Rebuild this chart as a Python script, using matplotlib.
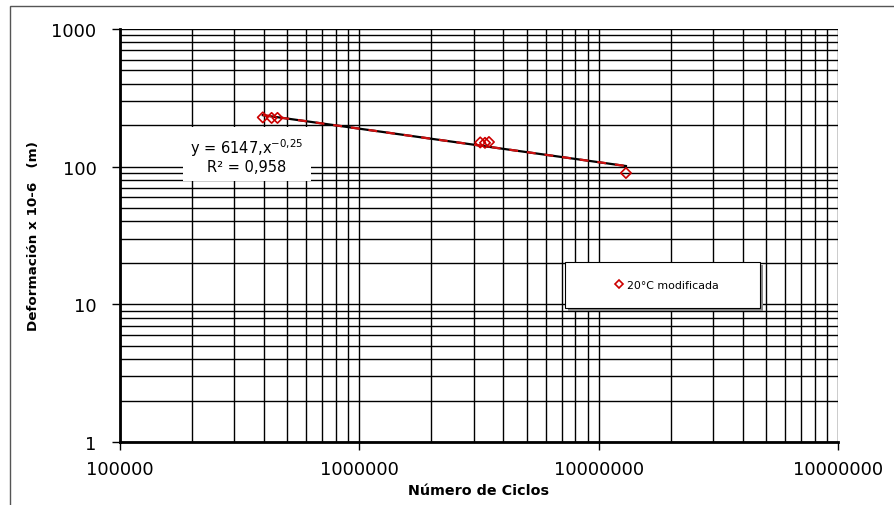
import numpy as np
import matplotlib.pyplot as plt
from matplotlib.patches import Rectangle
from matplotlib.lines import Line2D

plt.rcParams['font.family'] = ['DejaVu Sans']

# data
ciclos = [395000, 430000, 455000, 3200000, 3350000, 3480000, 13000000]
deformacion = [228, 226, 226, 150, 149, 151, 90]
x_ticks = [1e5, 1e6, 1e7, 1e8]
x_tick_labels = ['100000', '1000000', '10000000', '10000000']
y_ticks = [1, 10, 100, 1000]
y_tick_labels = ['1', '10', '100', '1000']

W, H = 895, 506
fig = plt.figure(figsize=(W / 100, H / 100), dpi=100)
# outer chart border
fig.patches.append(Rectangle((10 / W, -0.1), 1.2, (H - 7) / H + 0.1, transform=fig.transFigure,
                             fill=False, edgecolor='#555555', linewidth=1))
ax = fig.add_axes([120 / W, 63 / H, 718 / W, 413 / H])
ax.set_xscale('log')
ax.set_yscale('log')
ax.set_xlim(1e5, 1e8)
ax.set_ylim(1, 1000)

ax.grid(True, which='both', color='black', linewidth=1)
ax.set_axisbelow(True)

# power trendline
lx = np.log10(ciclos)
ly = np.log10(deformacion)
b, a = np.polyfit(lx, ly, 1)
xf = np.logspace(lx.min(), lx.max(), 100)
yf = 10 ** a * xf ** b
ax.plot(xf, yf, color='black', linewidth=1.6, zorder=3)
ax.plot(xf, yf, color='#d01010', linewidth=1.6, dashes=(4, 4), zorder=3)

ax.scatter(ciclos, deformacion, marker='D', s=28, facecolors='none', edgecolors='#cc0000',
           linewidths=1.2, zorder=4)

ax.text((247 - 120) / 718, (443 - 156) / 413, 'y = 6147,x$^{-0{,}25}$\nR² = 0,958',
        transform=ax.transAxes, ha='center', va='center',
        fontsize=10.5, linespacing=1.05, zorder=5,
        bbox=dict(facecolor='white', edgecolor='none', pad=5))

# legend box with shadow
fig.patches.append(Rectangle((568 / W, (H - 312) / H), 195 / W, 46 / H, transform=fig.transFigure,
                             facecolor='#888888', edgecolor='none', zorder=5))
fig.patches.append(Rectangle((565 / W, (H - 309) / H), 195 / W, 46 / H, transform=fig.transFigure,
                             facecolor='white', edgecolor='black', linewidth=0.8, zorder=5))
h = Line2D([], [], marker='D', markersize=4, markerfacecolor='none', markeredgecolor='#cc0000',
           linestyle='none', markeredgewidth=1.2)
leg = fig.legend([h], ['20°C modificada'], loc='center', bbox_to_anchor=(666 / W, (H - 286) / H),
                 frameon=False, fontsize=7.9, handletextpad=0.2, handlelength=1.0)
leg.set_zorder(6)

ax.set_xticks(x_ticks)
ax.set_xticklabels(x_tick_labels, fontsize=13)
ax.set_yticks(y_ticks)
ax.set_yticklabels(y_tick_labels, fontsize=13)
ax.tick_params(which='major', length=6, width=1, color='black')
ax.tick_params(which='minor', length=0)
ax.tick_params(axis='x', pad=7)
ax.tick_params(axis='y', pad=11)
for s in ['top', 'right']:
    ax.spines[s].set_visible(False)
for s in ['left', 'bottom']:
    ax.spines[s].set_linewidth(2)

ax.set_xlabel('Número de Ciclos', fontsize=10.3, fontweight='bold')
ax.xaxis.set_label_coords(0.5, (443 - 484) / 413)
ax.set_ylabel('Deformación x 10-6   (m)', fontsize=9.7, fontweight='bold')
ax.yaxis.set_label_coords((40 - 120) / 718, 0.5)

plt.savefig('out.png', dpi=100)
